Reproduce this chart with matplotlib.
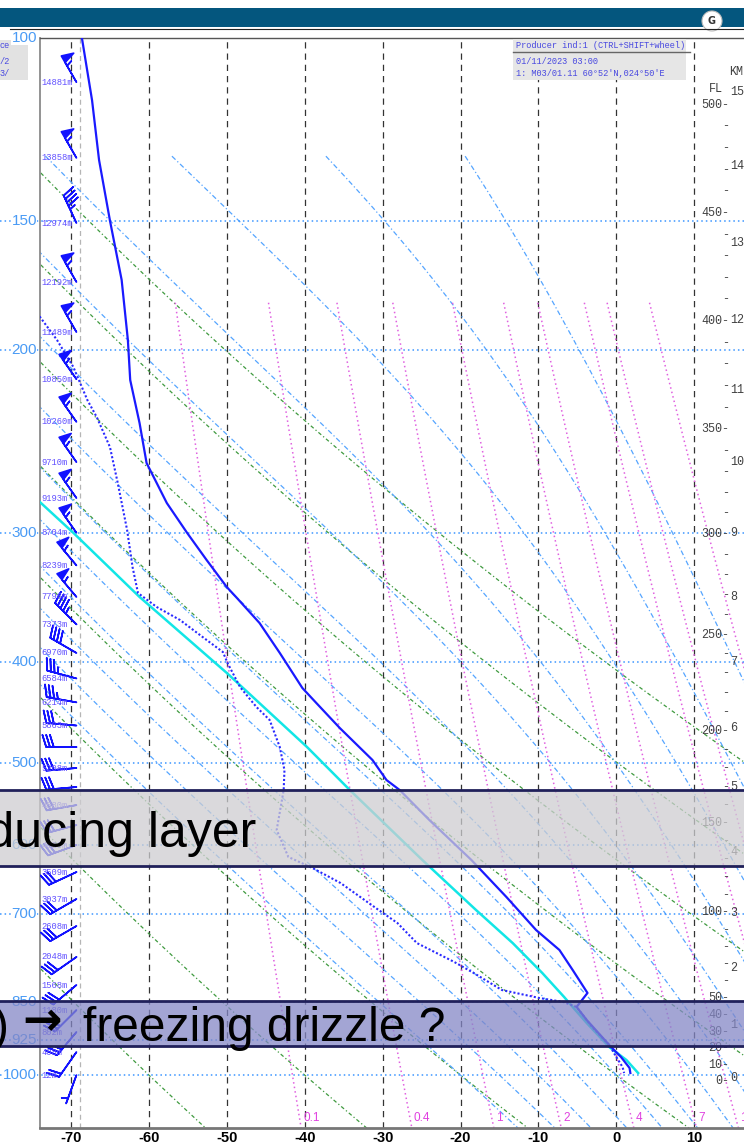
import numpy as np
import matplotlib
matplotlib.use("Agg")
import matplotlib.pyplot as plt
from matplotlib import transforms
from matplotlib.patches import Rectangle, Circle
from matplotlib.lines import Line2D

W, H = 744, 1147

# ---- sounding (hPa, degC) ----
temp_p = [100.0, 114.8, 131.1, 150.0, 171.1, 195.5, 213.7, 235.1, 256.9, 280.8,
          300.0, 318.6, 338.4, 346.7, 366.5, 391.7, 423.4, 437.8, 462.7, 496.8,
          519.4, 531.1, 567.6, 620.3, 673.5, 724.6, 757.5, 791.9, 833.3, 859.6,
          884.8, 935.5, 960.6, 984.4, 995.4]
temp_t = [-68.6, -67.3, -66.4, -65.0, -63.5, -62.7, -62.4, -61.2, -60.3, -57.7,
          -55.1, -52.6, -50.0, -48.7, -45.8, -43.2, -40.3, -38.5, -35.5, -31.3,
          -29.5, -27.8, -24.0, -18.6, -14.1, -10.3, -7.3, -5.6, -3.7, -5.1,
          -3.8, -0.9, 0.6, 1.7, 1.8]

dew_p = [180.1, 195.5, 207.6, 223.4, 232.0, 248.0, 268.6, 298.1, 323.7, 342.9,
         353.7, 364.1, 378.1, 390.9, 400.6, 422.5, 441.6, 454.6, 482.7, 508.0,
         531.1, 580.3, 616.1, 631.4, 652.8, 693.2, 713.4, 745.9, 777.9, 797.2,
         827.8, 842.6, 850.1, 859.6, 898.7, 935.5, 960.6, 982.2, 995.4]
dew_t = [-75.3, -71.8, -69.7, -67.9, -66.7, -65.0, -64.0, -62.8, -62.1, -61.4,
         -59.0, -56.0, -53.1, -50.5, -49.9, -48.3, -46.2, -44.5, -43.2, -42.6,
         -42.7, -43.6, -42.1, -39.0, -35.4, -30.5, -28.1, -25.6, -20.8, -18.3,
         -14.7, -9.9, -6.8, -5.1, -3.1, -0.9, 0.0, 0.8, 1.0]

parcel_p = [274.4, 300.0, 345.9, 409.5, 482.7, 531.1, 620.3, 693.2, 745.9, 797.2,
            840.8, 859.6, 890.7, 939.6, 967.1, 995.4]
parcel_t = [-75.3, -69.7, -61.2, -50.0, -39.7, -34.2, -24.9, -18.0, -13.3, -9.5,
            -6.7, -5.6, -3.8, -0.9, 1.3, 2.8]

# wind barbs and model heights
wind_p = [110.3, 130.5, 150.8, 171.9, 192.1, 213.3, 234.5, 256.4, 277.7, 300.0,
          322.5, 345.9, 367.6, 391.7, 414.5, 437.1, 460.2, 482.7, 505.7, 527.5,
          549.1, 574.0, 600.0, 637.1, 676.4, 718.2, 769.3, 818.7, 865.5, 908.8,
          950.1, 999.9]
wind_dir = [330, 330, 335, 330, 330, 325, 325, 325, 325, 325,
            320, 320, 315, 300, 285, 280, 275, 270, 265, 265,
            260, 255, 250, 245, 240, 240, 235, 230, 225, 220,
            215, 200]
wind_kt = [55, 55, 45, 55, 55, 55, 55, 55, 55, 55,
           55, 55, 45, 40, 35, 35, 30, 30, 30, 30,
           30, 30, 30, 30, 30, 30, 30, 30, 30, 25,
           20, 5]
height_lbl = ["14881m", "13858m", "12974m", "12192m", "11489m", "10850m", "10260m",
              "9710m", "9193m", "8704m", "8239m", "7796m", "7373m", "6970m", "6584m",
              "6214m", "5863m", "", "5208m", "", "4580m", "", "4029m", "3509m",
              "3037m", "2608m", "2048m", "1568m", "1180m", "802m", "408m", "12m"]

# diagram background
pressure_lines = [150, 200, 300, 400, 500, 600, 700, 850, 925, 1000]
pressure_labels = [100, 150, 200, 300, 400, 500, 600, 700, 850, 925, 1000]
isotherms = [-70, -60, -50, -40, -30, -20, -10, 0, 10]
dry_theta_c = [-60, -40, -20, 0, 20, 40, 60, 80]
moist_thetaw_c = [-20, -15, -10, -5, 0, 5, 10, 15, 20, 25, 30, 35, 40]
mix_ratios = [0.1, 0.4, 1, 2, 4, 7, 10, 16, 20, 30]
mix_labelled = ["0.1", "0.4", "1", "2", "4", "7", "10"]
fl_labelled = [0, 10, 20, 30, 40, 50, 100, 150, 200, 250, 300, 350, 400, 450, 500]
km_labels = list(range(0, 16))
km_label_p = [1006.5, 894.8, 788.4, 697.8, 609.4, 527.5, 462.7, 399.7, 345.9, 300.0,
              256.4, 218.5, 187.0, 157.6, 132.9, 112.7]

T_LEFT, T_RIGHT = -73.98, 16.39
P_TOP, P_BOT = 100.0, 1124.6


def isa_pressure(h):
    h = np.asarray(h, float)
    return np.where(h <= 11000, 1013.25 * (1 - 2.25577e-5 * h) ** 5.25588,
                    226.32 * np.exp(-(h - 11000) / 6341.62))


def moist_slope(T, lnp):
    p = np.exp(lnp)
    es = 6.112 * np.exp(17.67 * (T - 273.15) / (T - 29.65))
    r = 0.622 * es / (p - es)
    return (287.04 * T + 2.501e6 * r) / (1005.7 + 2.501e6 ** 2 * r * 0.622 / (287.04 * T * T))


def integrate(T0, lnp0, lnp1, n=300):
    h = (lnp1 - lnp0) / n
    T, lnp = T0, lnp0
    ls, ts = [lnp], [T]
    for _ in range(n):
        k1 = moist_slope(T, lnp)
        k2 = moist_slope(T + h * k1 / 2, lnp + h / 2)
        k3 = moist_slope(T + h * k2 / 2, lnp + h / 2)
        k4 = moist_slope(T + h * k3, lnp + h)
        T += h * (k1 + 2 * k2 + 2 * k3 + k4) / 6
        lnp += h
        ls.append(lnp)
        ts.append(T)
    return np.array(ls), np.array(ts)


fig = plt.figure(figsize=(W / 100, H / 100), dpi=100)
fig.patch.set_facecolor("white")
pix = transforms.Affine2D().scale(1.0 / W, -1.0 / H).translate(0, 1) + fig.transFigure

ax = fig.add_axes([40 / W, 1 - 1128 / H, 704 / W, 1090 / H])
ax.set_yscale("log")
ax.set_xlim(T_LEFT, T_RIGHT)
ax.set_ylim(P_BOT, P_TOP)
ax.set_yticks([])
ax.minorticks_off()
ax.set_xticks(isotherms)
ax.set_xticklabels([str(t) for t in isotherms], fontsize=10.5, fontweight="bold",
                   family=["Liberation Sans Narrow", "Liberation Sans"])
ax.tick_params(axis="x", length=0, pad=2)
ax.spines["right"].set_visible(False)
ax.spines["left"].set_color("#8a8a8a")
ax.spines["left"].set_linewidth(1.3)
ax.spines["bottom"].set_color("#777777")
ax.spines["bottom"].set_linewidth(2)
ax.spines["top"].set_color("#555555")
ax.spines["top"].set_linewidth(1)

# isotherms
for t in isotherms:
    ax.axvline(t, color="#333333", lw=0.9, ls=(0, (5, 4)), zorder=1)
ax.axvline(-68.85, color="#b5b5b5", lw=0.9, ls=(0, (4, 3)), zorder=1)

# dry adiabats
pp = np.geomspace(P_TOP, P_BOT, 200)
for th in dry_theta_c:
    tt = (th + 273.15) * (pp / 1000.0) ** 0.2857 - 273.15
    ax.plot(tt, pp, color="#3f9a3f", lw=0.9, ls=(0, (3, 2, 1, 2)), zorder=2)

# moist adiabats
for thw in moist_thetaw_c:
    lu, tu = integrate(thw + 273.15, np.log(1000.0), np.log(130.0))
    ld, td = integrate(thw + 273.15, np.log(1000.0), np.log(P_BOT), n=40)
    lnp = np.concatenate([lu[::-1], ld[1:]])
    tk = np.concatenate([tu[::-1], td[1:]])
    ax.plot(tk - 273.15, np.exp(lnp), color="#55a5ff", lw=0.9, ls=(0, (4, 2, 1, 2)), zorder=2)

# mixing ratio lines
pm = np.geomspace(180.0, P_BOT, 100)
for w in mix_ratios:
    e = w * pm / (622.0 + w)
    ln_e = np.log(e / 6.112)
    td = 243.5 * ln_e / (17.67 - ln_e)
    ax.plot(td, pm, color="#e060e0", lw=1.1, ls=(0, (1, 2)), zorder=2)
for w, lbl in zip(mix_ratios, mix_labelled):
    e = w * P_BOT / (622.0 + w)
    ln_e = np.log(e / 6.112)
    td = 243.5 * ln_e / (17.67 - ln_e)
    ax.annotate(lbl, (td, P_BOT), xytext=(1.5, 3), textcoords="offset points",
                ha="left", va="bottom", fontsize=8.5, color="#e040e0",
                family=["Liberation Sans Narrow", "Liberation Sans"], zorder=3)

# pressure lines
for p in pressure_lines:
    ax.axhline(p, xmin=-40 / 704, xmax=1, color="#3c96ff", lw=1.1,
               ls=(0, (1, 2)), clip_on=False, zorder=2)

# profiles
ax.plot(parcel_t, parcel_p, color="#12e6e6", lw=1.8, zorder=4)
ax.plot(dew_t, dew_p, color="#2a2aff", lw=1.5, ls=(0, (1, 1)), zorder=5)
ax.plot(temp_t, temp_p, color="#1a1aff", lw=1.6, zorder=6)

# winds
wd = np.radians(wind_dir)
u = -np.array(wind_kt) * np.sin(wd)
v = -np.array(wind_kt) * np.cos(wd)
ax.barbs(np.full(len(wind_p), -69.3), wind_p, u, v, length=6.6, color="#1212ff",
         linewidth=1.2, zorder=7)
for p, lbl in zip(wind_p, height_lbl):
    if lbl:
        ax.annotate(lbl, (T_LEFT, p), xytext=(1, 0), textcoords="offset points",
                    ha="left", va="center", fontsize=6.3, color="#6150ff",
                    family="Liberation Mono", zorder=8)

# left pressure labels
lab_tr = transforms.blended_transform_factory(pix, ax.transData)
for p in pressure_labels:
    fig.text(37, p, str(p), transform=lab_tr, ha="right", va="center", fontsize=11,
             color="#4a9bf5", family=["Liberation Sans Narrow", "Liberation Sans"],
             bbox=dict(fc="white", ec="none", pad=0.3), zorder=3)

# right FL / KM scale
fl_all = np.arange(0, 510, 10)
for fl in fl_all:
    p = float(isa_pressure(fl * 100 * 0.3048))
    txt = f"{fl}-" if fl in fl_labelled else "-"
    fig.text(729, p, txt, transform=lab_tr, ha="right", va="center",
             fontsize=8.5, color="#404040", family="Liberation Mono", zorder=3)
for km, p in zip(km_labels, km_label_p):
    fig.text(730, p, str(km), transform=lab_tr, ha="left", va="center",
             fontsize=8.5, color="#404040", family="Liberation Mono", zorder=3)
fig.text(729, 72, "KM", transform=pix, ha="left", va="center", fontsize=8.5,
         color="#404040", family="Liberation Mono")
fig.text(709, 89, "FL", transform=pix, ha="left", va="center", fontsize=8.5,
         color="#404040", family="Liberation Mono")

# header
fig.add_artist(Rectangle((0, 8), W, 19, transform=pix, fc="#04567e", ec="none"))
fig.add_artist(Line2D([10, W], [29, 29], transform=pix, color="#222222", lw=0.8))
fig.add_artist(Circle((712, 21), 10, transform=pix, fc="white", ec="#bbbbbb", lw=0.8))
fig.text(712, 21, "G", transform=pix, ha="center", va="center", fontsize=7,
         fontweight="bold", color="#333333")

# producer box
fig.add_artist(Rectangle((513, 39), 173, 41, transform=pix, fc="#e6e6e6", ec="none", zorder=8))
fig.add_artist(Line2D([513, 690], [52, 52], transform=pix, color="#666666", lw=1, zorder=9))
fig.text(516, 46, "Producer ind:1 (CTRL+SHIFT+wheel)", transform=pix, ha="left",
         va="center", fontsize=6.2, color="#4848e0", family="Liberation Mono", zorder=9)
fig.text(516, 61, "01/11/2023 03:00", transform=pix, ha="left", va="center",
         fontsize=6.2, color="#4848e0", family="Liberation Mono", zorder=9)
fig.text(516, 74, "1: M03/01.11 60°52'N,024°50'E", transform=pix, ha="left",
         va="center", fontsize=6.2, color="#4848e0", family="Liberation Mono", zorder=9)

# remains of the neighbouring panel on the left
fig.add_artist(Rectangle((0, 40), 28, 40, transform=pix, fc="#e2e2e2", ec="none"))
for yy, tx in [(46, "ce"), (61, "/2"), (74, "3/")]:
    fig.text(0, yy, tx, transform=pix, ha="left", va="center", fontsize=6.2,
             color="#4848e0", family="Liberation Mono")

# slide annotation bands
bands = [(790, 866, "#cecdd1"), (1001, 1046, "#8487c6")]
for y0, y1, col in bands:
    fig.add_artist(Rectangle((0, y0), W, y1 - y0, transform=pix, fc=col, ec="none",
                             alpha=0.75, zorder=10))
    for yy in (y0, y1):
        fig.add_artist(Line2D([0, W], [yy, yy], transform=pix, color="#20205a",
                              lw=2.0, zorder=11))
fig.text(256, 847, "producing layer", transform=pix, ha="right", va="baseline",
         fontsize=36, color="black", family=["Liberation Sans", "DejaVu Sans"], zorder=12)
fig.text(9, 1041, ")", transform=pix, ha="right", va="baseline", fontsize=34.5,
         color="black", family=["Liberation Sans", "DejaVu Sans"], zorder=12)
fig.text(42, 1023, "\u2192", transform=pix, ha="center", va="center", fontsize=34,
         fontweight="bold", color="black", family="DejaVu Sans", zorder=12)
fig.text(83, 1041, "freezing drizzle ?", transform=pix, ha="left", va="baseline",
         fontsize=34.5, color="black", family=["Liberation Sans", "DejaVu Sans"], zorder=12)

fig.savefig("out.png", dpi=100)
